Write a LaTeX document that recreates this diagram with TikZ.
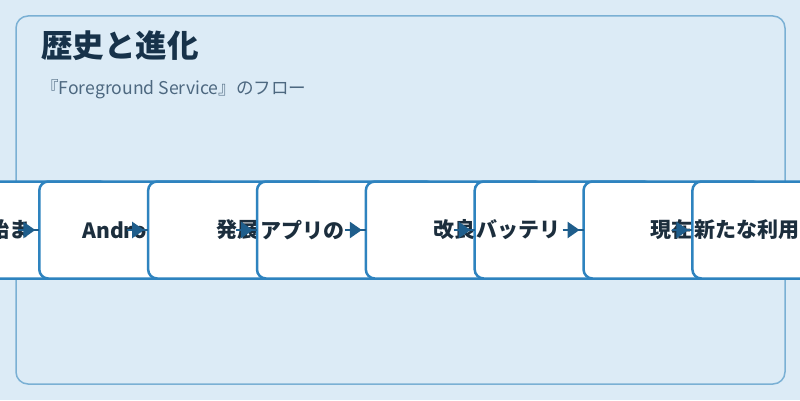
\documentclass[tikz,border=0pt]{standalone}
\usepackage{fontspec}
\setmainfont{Noto Sans CJK JP}
\usepackage{tikz}
\usetikzlibrary{positioning,shapes,arrows.meta}

\definecolor{pagebg}{HTML}{DCEBF6}
\definecolor{panelline}{HTML}{7AB0D4}
\definecolor{stepline}{HTML}{2E83BF}
\definecolor{arrowblue}{HTML}{1F5E8C}
\definecolor{titleink}{HTML}{17324A}
\definecolor{subink}{HTML}{4D6880}
\definecolor{stepink}{HTML}{1C2E3D}

\tikzset{
  stepbox/.style={draw=stepline, line width=2.5pt, fill=white, rounded corners=9pt,
    minimum width=178pt, minimum height=97pt, outer sep=0pt, inner sep=0pt},
  steplabel/.style={anchor=west, inner sep=0pt, text=stepink,
    font=\fontsize{21}{25}\selectfont\bfseries},
  flowarrow/.style={draw=arrowblue, line width=2.5pt,
    -{Triangle[length=12pt,width=16pt,sep=0pt]Rectangle[length=4pt,width=2.5pt]}}
}

\begin{document}
\begin{tikzpicture}[x=1pt,y=1pt]
\useasboundingbox (0,0) rectangle (800,400);
\clip (0,0) rectangle (800,400);
\fill[pagebg] (0,0) rectangle (800,400);
\draw[panelline, line width=1.5pt, rounded corners=12pt, fill=pagebg] (16,16) rectangle (785,384);

\node (title) at (41,354) [anchor=west, inner sep=0pt, text=titleink,
  font=\fontsize{31.5}{38}\selectfont\bfseries] {歴史と進化};
\node (subtitle) at (41,311) [anchor=west, inner sep=0pt, text=subink,
  font=\fontsize{17.6}{21}\selectfont] {『Foreground Service』のフロー};

% steps, each one laid over the one before
\node (step1) at (19.45,170) [stepbox] {};
\node (lbl1) [steplabel, right=57.5pt of step1.west] {始ま};
\foreach \k/\off/\txt [evaluate=\k as \j using int(\k-1)] in
  {2/43/Andro, 3/68/発展, 4/3/アプリの, 5/67/改良, 6/2/バッテリ, 7/67/現在, 8/2/新たな利用}{
  \node (step\k) at ({19.45+(\k-1)*108.85},170) [stepbox] {};
  \draw[flowarrow] ([xshift=88pt]step\j.west) -- (step\k.west);
  \node (lbl\k) [steplabel, right=\off pt of step\k.west] {\txt};
}
\end{tikzpicture}
\end{document}
